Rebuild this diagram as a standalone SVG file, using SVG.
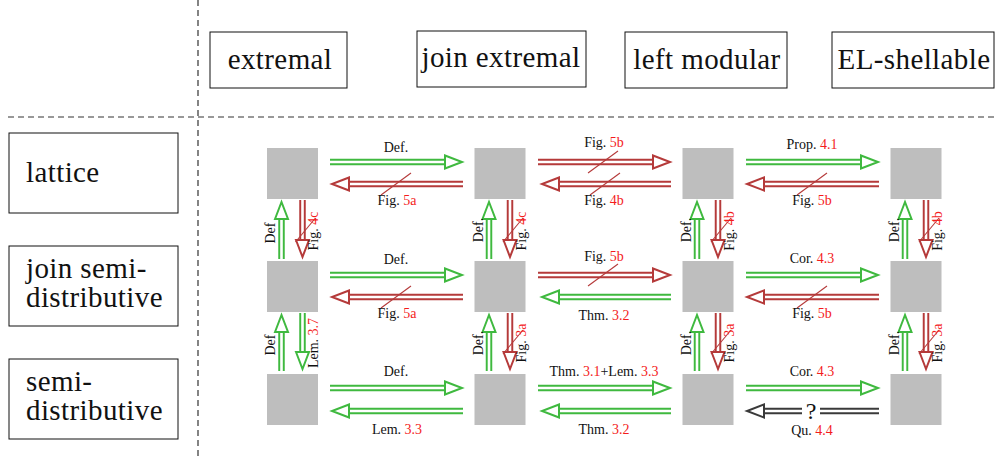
<svg xmlns="http://www.w3.org/2000/svg" width="995" height="458" viewBox="0 0 995 458">
<style>
text{font-family:"Liberation Serif","DejaVu Serif",serif;fill:#111}
.big{font-size:29px;letter-spacing:0.4px}
.lab{font-size:14px}
.mid{text-anchor:middle}
.r{fill:#f41c1c}
.box{fill:#fff;stroke:#111;stroke-width:1}
.sq{fill:#bebebe}
.dash{stroke:#333;stroke-width:1.2;stroke-dasharray:6 4;fill:none}
.go{stroke:#3fb93f;stroke-width:6.5;fill:none}
.ro{stroke:#b53a3a;stroke-width:6.5;fill:none}
.ko{stroke:#3a3a3a;stroke-width:6.5;fill:none}
.in{stroke:#fff;stroke-width:2.6;fill:none}
.gh{fill:#fff;stroke:#3fb93f;stroke-width:2}
.rh{fill:#fff;stroke:#b53a3a;stroke-width:2}
.kh{fill:#fff;stroke:#3a3a3a;stroke-width:2}
.sl{stroke:#b53a3a;stroke-width:1.1}
</style>

<g id="grid">
<line class="dash" x1="198" y1="0" x2="198" y2="458"/>
<line class="dash" x1="8" y1="117" x2="995" y2="117"/>
</g>

<g id="h-extremal"><rect class="box" x="210" y="32" width="137" height="56"/><text class="big mid" x="280" y="69">extremal</text></g>
<g id="h-joinextremal"><rect class="box" x="417" y="31" width="169" height="56"/><text class="big mid" x="501" y="67">join extremal</text></g>
<g id="h-leftmodular"><rect class="box" x="625" y="32" width="162" height="56"/><text class="big mid" x="707" y="69">left modular</text></g>
<g id="h-elshellable"><rect class="box" x="832" y="32" width="162" height="56"/><text class="big mid" x="914" y="69">EL-shellable</text></g>

<g id="r-lattice"><rect class="box" x="9" y="133" width="169" height="80"/><text class="big" x="26" y="182">lattice</text></g>
<g id="r-joinsd"><rect class="box" x="9" y="246" width="169" height="80"/><text class="big" x="26" y="278">join semi-</text><text class="big" x="26" y="307">distributive</text></g>
<g id="r-sd"><rect class="box" x="9" y="359" width="169" height="80"/><text class="big" x="26" y="391">semi-</text><text class="big" x="26" y="420">distributive</text></g>

<g id="n11"><rect class="sq" x="267" y="148" width="51" height="51"/></g>
<g id="n12"><rect class="sq" x="474.5" y="148" width="51" height="51"/></g>
<g id="n13"><rect class="sq" x="682.5" y="148" width="51" height="51"/></g>
<g id="n14"><rect class="sq" x="890.5" y="148" width="51" height="51"/></g>
<g id="n21"><rect class="sq" x="267" y="261" width="51" height="51"/></g>
<g id="n22"><rect class="sq" x="474.5" y="261" width="51" height="51"/></g>
<g id="n23"><rect class="sq" x="682.5" y="261" width="51" height="51"/></g>
<g id="n24"><rect class="sq" x="890.5" y="261" width="51" height="51"/></g>
<g id="n31"><rect class="sq" x="267" y="374" width="51" height="51"/></g>
<g id="n32"><rect class="sq" x="474.5" y="374" width="51" height="51"/></g>
<g id="n33"><rect class="sq" x="682.5" y="374" width="51" height="51"/></g>
<g id="n34"><rect class="sq" x="890.5" y="374" width="51" height="51"/></g>

<g id="connectors">
<!-- Row 1 -->
<path class="go" d="M330 162H445"/><path class="in" d="M330 162H445"/><polygon class="gh" points="445,155.5 462,162 445,168.5"/>
<text class="lab mid" x="396" y="152">Def.</text>
<path class="ro" d="M349 184H463"/><path class="in" d="M349 184H463"/><polygon class="rh" points="349,177.5 332,184 349,190.5"/>
<line class="sl" x1="411" y1="173" x2="381" y2="195"/>
<text class="lab mid" x="397" y="205">Fig. <tspan class="r">5a</tspan></text>

<path class="ro" d="M538 162H653"/><path class="in" d="M538 162H653"/><polygon class="rh" points="653,155.5 670,162 653,168.5"/>
<line class="sl" x1="618" y1="151" x2="588" y2="173"/>
<text class="lab mid" x="604" y="147">Fig. <tspan class="r">5b</tspan></text>
<path class="ro" d="M559 184H671"/><path class="in" d="M559 184H671"/><polygon class="rh" points="559,177.5 542,184 559,190.5"/>
<line class="sl" x1="620" y1="173" x2="590" y2="195"/>
<text class="lab mid" x="604" y="205">Fig. <tspan class="r">4b</tspan></text>

<path class="go" d="M746 162H861"/><path class="in" d="M746 162H861"/><polygon class="gh" points="861,155.5 878,162 861,168.5"/>
<text class="lab mid" x="812" y="149">Prop. <tspan class="r">4.1</tspan></text>
<path class="ro" d="M764 184H879"/><path class="in" d="M764 184H879"/><polygon class="rh" points="764,177.5 747,184 764,190.5"/>
<line class="sl" x1="827" y1="173" x2="797" y2="195"/>
<text class="lab mid" x="812" y="205">Fig. <tspan class="r">5b</tspan></text>

<!-- Row 2 -->
<path class="go" d="M330 275H445"/><path class="in" d="M330 275H445"/><polygon class="gh" points="445,268.5 462,275 445,281.5"/>
<text class="lab mid" x="396" y="264">Def.</text>
<path class="ro" d="M349 297H463"/><path class="in" d="M349 297H463"/><polygon class="rh" points="349,290.5 332,297 349,303.5"/>
<line class="sl" x1="411" y1="286" x2="381" y2="308"/>
<text class="lab mid" x="397" y="318">Fig. <tspan class="r">5a</tspan></text>

<path class="ro" d="M538 275H653"/><path class="in" d="M538 275H653"/><polygon class="rh" points="653,268.5 670,275 653,281.5"/>
<line class="sl" x1="618" y1="264" x2="588" y2="286"/>
<text class="lab mid" x="604" y="261">Fig. <tspan class="r">5b</tspan></text>
<path class="go" d="M559 297H671"/><path class="in" d="M559 297H671"/><polygon class="gh" points="559,290.5 542,297 559,303.5"/>
<text class="lab mid" x="604" y="320">Thm. <tspan class="r">3.2</tspan></text>

<path class="go" d="M746 275H861"/><path class="in" d="M746 275H861"/><polygon class="gh" points="861,268.5 878,275 861,281.5"/>
<text class="lab mid" x="812" y="263">Cor. <tspan class="r">4.3</tspan></text>
<path class="ro" d="M764 297H879"/><path class="in" d="M764 297H879"/><polygon class="rh" points="764,290.5 747,297 764,303.5"/>
<line class="sl" x1="827" y1="286" x2="797" y2="308"/>
<text class="lab mid" x="812" y="318">Fig. <tspan class="r">5b</tspan></text>

<!-- Row 3 -->
<path class="go" d="M330 388H445"/><path class="in" d="M330 388H445"/><polygon class="gh" points="445,381.5 462,388 445,394.5"/>
<text class="lab mid" x="396" y="376">Def.</text>
<path class="go" d="M349 411H463"/><path class="in" d="M349 411H463"/><polygon class="gh" points="349,404.5 332,411 349,417.5"/>
<text class="lab mid" x="397" y="434">Lem. <tspan class="r">3.3</tspan></text>

<path class="go" d="M538 388H653"/><path class="in" d="M538 388H653"/><polygon class="gh" points="653,381.5 670,388 653,394.5"/>
<text class="lab mid" x="604" y="376">Thm. <tspan class="r">3.1</tspan>+Lem. <tspan class="r">3.3</tspan></text>
<path class="go" d="M559 411H671"/><path class="in" d="M559 411H671"/><polygon class="gh" points="559,404.5 542,411 559,417.5"/>
<text class="lab mid" x="604" y="434">Thm. <tspan class="r">3.2</tspan></text>

<path class="go" d="M746 388H861"/><path class="in" d="M746 388H861"/><polygon class="gh" points="861,381.5 878,388 861,394.5"/>
<text class="lab mid" x="812" y="376">Cor. <tspan class="r">4.3</tspan></text>
<path class="ko" d="M764 411H879"/><path class="in" d="M764 411H879"/><polygon class="kh" points="764,404.5 747,411 764,417.5"/>
<rect x="802" y="400" width="18" height="22" fill="#fff"/>
<text x="811" y="419" style="font-size:24px;text-anchor:middle">?</text>
<text class="lab mid" x="812" y="435">Qu. <tspan class="r">4.4</tspan></text>

<!-- Vertical rows 1-2 -->
<path class="go" d="M281.5 259V219"/><path class="in" d="M281.5 259V219"/><polygon class="gh" points="275,219 281.5,202 288,219"/>
<text class="lab mid" transform="translate(275,233) rotate(-90)">Def</text>
<path class="ro" d="M302.5 200V240"/><path class="in" d="M302.5 200V240"/><polygon class="rh" points="296,240 302.5,257 309,240"/>
<line class="sl" x1="295.5" y1="242" x2="315.5" y2="218"/>
<text class="lab mid" transform="translate(318,231) rotate(-90)">Fig. <tspan class="r">4c</tspan></text>

<path class="go" d="M489 259V219"/><path class="in" d="M489 259V219"/><polygon class="gh" points="482.5,219 489,202 495.5,219"/>
<text class="lab mid" transform="translate(482.5,230) rotate(-90)">Def.</text>
<path class="ro" d="M510 200V240"/><path class="in" d="M510 200V240"/><polygon class="rh" points="503.5,240 510,257 516.5,240"/>
<line class="sl" x1="503" y1="242" x2="523" y2="218"/>
<text class="lab mid" transform="translate(525.5,231) rotate(-90)">Fig. <tspan class="r">4c</tspan></text>

<path class="go" d="M697 259V219"/><path class="in" d="M697 259V219"/><polygon class="gh" points="690.5,219 697,202 703.5,219"/>
<text class="lab mid" transform="translate(690.5,230) rotate(-90)">Def.</text>
<path class="ro" d="M718 200V240"/><path class="in" d="M718 200V240"/><polygon class="rh" points="711.5,240 718,257 724.5,240"/>
<line class="sl" x1="711" y1="242" x2="731" y2="218"/>
<text class="lab mid" transform="translate(733.5,231) rotate(-90)">Fig. <tspan class="r">4b</tspan></text>

<path class="go" d="M905 259V219"/><path class="in" d="M905 259V219"/><polygon class="gh" points="898.5,219 905,202 911.5,219"/>
<text class="lab mid" transform="translate(898.5,230) rotate(-90)">Def.</text>
<path class="ro" d="M926 200V240"/><path class="in" d="M926 200V240"/><polygon class="rh" points="919.5,240 926,257 932.5,240"/>
<line class="sl" x1="919" y1="242" x2="939" y2="218"/>
<text class="lab mid" transform="translate(941.5,231) rotate(-90)">Fig. <tspan class="r">4b</tspan></text>

<!-- Vertical rows 2-3 -->
<path class="go" d="M281.5 371V332"/><path class="in" d="M281.5 371V332"/><polygon class="gh" points="275,332 281.5,315 288,332"/>
<text class="lab mid" transform="translate(275,345) rotate(-90)">Def</text>
<path class="go" d="M302.5 313V352"/><path class="in" d="M302.5 313V352"/><polygon class="gh" points="296,352 302.5,369 309,352"/>
<text class="lab mid" transform="translate(318,343) rotate(-90)">Lem. <tspan class="r">3.7</tspan></text>

<path class="go" d="M489 371V332"/><path class="in" d="M489 371V332"/><polygon class="gh" points="482.5,332 489,315 495.5,332"/>
<text class="lab mid" transform="translate(482.5,343) rotate(-90)">Def.</text>
<path class="ro" d="M510 313V352"/><path class="in" d="M510 313V352"/><polygon class="rh" points="503.5,352 510,369 516.5,352"/>
<line class="sl" x1="503" y1="354" x2="523" y2="330"/>
<text class="lab mid" transform="translate(525.5,343) rotate(-90)">Fig. <tspan class="r">3a</tspan></text>

<path class="go" d="M697 371V332"/><path class="in" d="M697 371V332"/><polygon class="gh" points="690.5,332 697,315 703.5,332"/>
<text class="lab mid" transform="translate(690.5,343) rotate(-90)">Def.</text>
<path class="ro" d="M718 313V352"/><path class="in" d="M718 313V352"/><polygon class="rh" points="711.5,352 718,369 724.5,352"/>
<line class="sl" x1="711" y1="354" x2="731" y2="330"/>
<text class="lab mid" transform="translate(733.5,343) rotate(-90)">Fig. <tspan class="r">3a</tspan></text>

<path class="go" d="M905 371V332"/><path class="in" d="M905 371V332"/><polygon class="gh" points="898.5,332 905,315 911.5,332"/>
<text class="lab mid" transform="translate(898.5,343) rotate(-90)">Def.</text>
<path class="ro" d="M926 313V352"/><path class="in" d="M926 313V352"/><polygon class="rh" points="919.5,352 926,369 932.5,352"/>
<line class="sl" x1="919" y1="354" x2="939" y2="330"/>
<text class="lab mid" transform="translate(941.5,343) rotate(-90)">Fig. <tspan class="r">3a</tspan></text>
</g>
</svg>
